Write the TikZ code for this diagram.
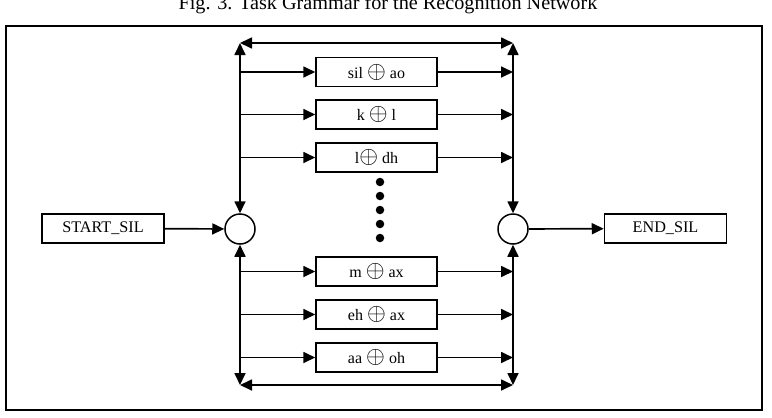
\documentclass[tikz,border=0pt]{standalone}
\usepackage{fontspec}
\setmainfont{Liberation Serif}
\usetikzlibrary{arrows.meta}
\begin{document}
\begin{tikzpicture}[x=1pt,y=-1pt,
  box/.style={draw, line width=1.5pt, minimum width=121pt, minimum height=29pt, inner sep=0pt, font=\fontsize{16}{18}\selectfont},
  sbox/.style={draw, line width=1.5pt, minimum width=122pt, minimum height=29pt, inner sep=0pt, font=\fontsize{16.2}{18}\selectfont},
  junc/.style={draw, circle, line width=1.5pt, minimum size=30pt, inner sep=0pt},
  tip/.tip={Triangle[length=12pt,width=11pt]},
  conn/.style={line width=1.7pt, -tip},
  dconn/.style={line width=1.7pt, tip-tip},
  dot/.style={circle, fill, minimum size=8.5pt, inner sep=0pt},
  titlefont/.style={font=\fontsize{20.2}{22}\selectfont}
]
\newcommand{\op}{\scalebox{1.4}{$\oplus$}}
\useasboundingbox (0,0) rectangle (772,418);
\node[titlefont, anchor=base] (title) at (388,9) {Fig. 3. Task Grammar for the Recognition Network};
\draw[line width=2.3pt] (6,26) rectangle (762,410);

\coordinate (tl) at (240,43);
\coordinate (tr) at (513,43);
\coordinate (bl) at (240,385);
\coordinate (br) at (513,385);

\node[junc] (jl) at (240,229) {};
\node[junc] (jr) at (513,229) {};
\node[sbox] (ss) at (103,228.5) {START\_SIL};
\node[sbox] (es) at (665.5,228.5) {END\_SIL};

\node[box] (b1) at (376.5,72) {\raisebox{-1.5pt}{sil \op{} ao}};
\node[box] (b2) at (376.5,114.5) {\raisebox{-1.5pt}{k \op{} l}};
\node[box] (b3) at (376.5,157.5) {\raisebox{-1.5pt}{l\op{} dh}};
\node[box] (b4) at (376.5,271.5) {\raisebox{-1.5pt}{m \op{} ax}};
\node[box] (b5) at (376.5,314.5) {\raisebox{-1.5pt}{eh \op{} ax}};
\node[box] (b6) at (376.5,357.5) {\raisebox{-1.5pt}{aa \op{} oh}};

\foreach \y [count=\i] in {182,196,210,224,238}
  \node[dot] (d\i) at (380,\y) {};

\draw[conn] (ss) -- (jl);
\draw[conn] (jr) -- (es);
\draw[dconn] (tl) -- (tr);
\draw[dconn] (bl) -- (br);
\draw[dconn] (jl.north) -- (tl);
\draw[dconn] (jl.south) -- (bl);
\draw[dconn] (jr.north) -- (tr);
\draw[dconn] (jr.south) -- (br);
\foreach \b in {b1,b2,b3,b4,b5,b6}{
  \draw[conn] (tl |- \b) -- (\b.west);
  \draw[conn] (\b.east) -- (tr |- \b);
}
\end{tikzpicture}
\end{document}
